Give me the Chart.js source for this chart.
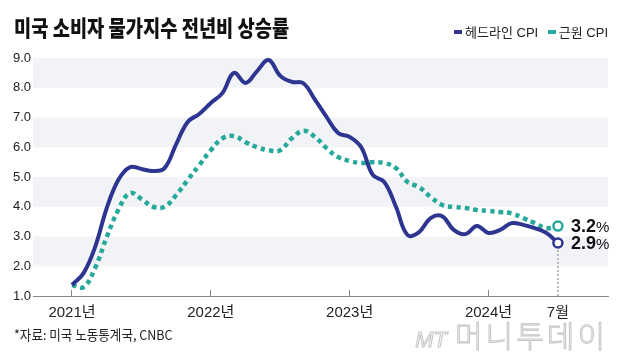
<!DOCTYPE html>
<html>
<head>
<meta charset="utf-8">
<script src="https://cdn.jsdelivr.net/npm/chart.js@4.4.1/dist/chart.umd.min.js"></script>
<style>
    body { margin: 0; background: #fff; }
    #wrap { position: relative; width: 620px; height: 363px; overflow: hidden; }
    #chart { position: absolute; left: 0; top: 0; }
    .title {
        position: absolute; left: 14px; top: 12px;
        font: 900 22px 'Noto Sans CJK KR', sans-serif; line-height: 28px;
        color: #111; white-space: nowrap;
        transform: scaleX(0.85); transform-origin: 0 0;
    }
    .legend {
        position: absolute; right: 12px; top: 25px;
        font: 13px 'Liberation Sans Narrow', 'Liberation Sans', 'Noto Sans CJK KR', sans-serif; line-height: 16px;
        color: #222; white-space: nowrap;
    }
    .legend span.sw { display: inline-block; width: 8px; height: 4px; margin: 0 3px 3px 0; vertical-align: middle; }
    .legend span.item { margin-left: 6px; }
    .source {
        position: absolute; left: 14px; top: 325px;
        font: 13.5px 'Noto Sans CJK KR', sans-serif; line-height: 18px;
        color: #222; white-space: nowrap;
        transform: scaleX(0.93); transform-origin: 0 0;
    }
    .logo {
        position: absolute; right: 12px; top: 317px; white-space: nowrap;
        color: #fff; -webkit-text-stroke: 1px #c4c4c4;
        font-family: 'Noto Sans CJK KR', sans-serif; line-height: 34px;
    }
    .logo i { font: italic 22px 'Liberation Sans', sans-serif; margin-right: 8px; }
    .logo b { font-weight: 300; font-size: 30px; letter-spacing: 3px; }
</style>
</head>
<body>
<div id="wrap">
    <canvas id="chart" width="620" height="363"></canvas>
    <div class="title">미국 소비자 물가지수 전년비 상승률</div>
    <div class="legend">
        <span class="item"><span class="sw" style="background:#2d3590"></span>헤드라인 CPI</span>
        <span class="item"><span class="sw" style="background:#26a99b"></span>근원 CPI</span>
    </div>
    <div class="source">*자료: 미국 노동통계국, CNBC</div>
    <div class="logo"><i>MT</i><b>머니투데이</b></div>
</div>
<script>
// 2021-01 ... 2024-07, one value per month
const months = [
    '2021-01','2021-02','2021-03','2021-04','2021-05','2021-06','2021-07','2021-08','2021-09','2021-10','2021-11','2021-12',
    '2022-01','2022-02','2022-03','2022-04','2022-05','2022-06','2022-07','2022-08','2022-09','2022-10','2022-11','2022-12',
    '2023-01','2023-02','2023-03','2023-04','2023-05','2023-06','2023-07','2023-08','2023-09','2023-10','2023-11','2023-12',
    '2024-01','2024-02','2024-03','2024-04','2024-05','2024-06','2024-07'
];
const headlineCpi = [
    1.37, 1.77, 2.65, 3.95, 4.9, 5.33, 5.27, 5.2, 5.3, 6.1, 6.85, 7.12,
    7.49, 7.82, 8.5, 8.16, 8.56, 8.93, 8.4, 8.2, 8.15, 7.6, 7.02, 6.48,
    6.35, 6.0, 5.07, 4.83, 4.0, 3.05, 3.15, 3.62, 3.68, 3.22, 3.08, 3.35,
    3.12, 3.22, 3.45, 3.39, 3.28, 3.12, 2.78
];
const coreCpi = [
    1.37, 1.3, 1.94, 2.98, 3.89, 4.46, 4.26, 4.0, 4.0, 4.39, 4.9, 5.4,
    5.9, 6.3, 6.38, 6.17, 6.0, 5.9, 5.9, 6.3, 6.55, 6.35, 5.97, 5.67,
    5.54, 5.47, 5.5, 5.47, 5.3, 4.83, 4.66, 4.33, 4.06, 3.99, 3.96, 3.89,
    3.86, 3.82, 3.78, 3.62, 3.45, 3.28, 3.35
];
const endLabels = ['2.9', '3.2'];
const xTickMonths = ['2021-01', '2022-01', '2023-01', '2024-01', '2024-07'];
const xTickLabels = ['2021년', '2022년', '2023년', '2024년', '7월'];
const yTicks = [1, 2, 3, 4, 5, 6, 7, 8, 9];
const bands = [[8, 9], [6, 7], [4, 5], [2, 3]];

const NAVY = '#2d3590';
const TEAL = '#26a99b';
const NARROW = "'Liberation Sans Narrow', 'Liberation Sans', 'Noto Sans CJK KR', sans-serif";

const toPoints = arr => arr.map((v, i) => ({ x: i, y: v }));
const lastIdx = months.length - 1;

const bandPlugin = {
    id: 'bands',
    beforeDraw(chart) {
        const { ctx, chartArea, scales } = chart;
        ctx.save();
        ctx.fillStyle = '#f2f3f6';
        bands.forEach(([lo, hi]) => {
            const top = scales.y.getPixelForValue(hi);
            const bottom = scales.y.getPixelForValue(lo);
            ctx.fillRect(chartArea.left, top, chartArea.right - chartArea.left, bottom - top);
        });
        ctx.restore();
    }
};

const endLabelPlugin = {
    id: 'endLabels',
    afterDatasetsDraw(chart) {
        const ctx = chart.ctx;
        ctx.save();
        ctx.fillStyle = '#111';
        ctx.textBaseline = 'middle';
        [0, 1].forEach(di => {
            const meta = chart.getDatasetMeta(di);
            const pt = meta.data[meta.data.length - 1];
            const x = pt.x + 13;
            ctx.font = 'bold 18px ' + NARROW;
            ctx.fillText(endLabels[di], x, pt.y + 1);
            const w = ctx.measureText(endLabels[di]).width;
            ctx.font = '15px ' + NARROW;
            ctx.fillText('%', x + w, pt.y + 2);
        });
        ctx.restore();
    }
};

const endPoint = color => ({
    pointRadius: c => c.dataIndex === lastIdx ? 4.5 : 0,
    pointHoverRadius: 0,
    pointBackgroundColor: '#fff',
    pointBorderColor: color,
    pointBorderWidth: 2.5
});

new Chart(document.getElementById('chart'), {
    type: 'line',
    data: {
        datasets: [
            {
                label: '헤드라인 CPI',
                data: toPoints(headlineCpi),
                borderColor: NAVY,
                borderWidth: 4,
                tension: 0.4,
                ...endPoint(NAVY)
            },
            {
                label: '근원 CPI',
                data: toPoints(coreCpi),
                borderColor: TEAL,
                borderWidth: 4.5,
                borderDash: [4.5, 4],
                tension: 0.4,
                ...endPoint(TEAL)
            },
            {
                label: 'guide',
                data: [{ x: lastIdx, y: yTicks[0] }, { x: lastIdx, y: headlineCpi[lastIdx] }],
                borderColor: '#aaa',
                borderWidth: 1.5,
                borderDash: [2, 2],
                pointRadius: 0,
                tension: 0
            }
        ]
    },
    options: {
        responsive: false,
        animation: false,
        devicePixelRatio: 1,
        layout: { padding: { left: 13, top: 58, right: 12, bottom: 0 } },
        plugins: {
            legend: { display: false },
            tooltip: { enabled: false }
        },
        scales: {
            x: {
                type: 'linear',
                min: -3.37,
                max: 46.33,
                afterBuildTicks: scale => {
                    scale.ticks = xTickMonths.map(m => ({ value: months.indexOf(m) }));
                },
                afterFit: scale => { scale.height = 67; },
                border: { display: true, color: '#888', width: 1 },
                grid: {
                    drawOnChartArea: false,
                    tickLength: -6,
                    color: c => c.index === xTickLabels.length - 1 ? 'rgba(0,0,0,0)' : '#888'
                },
                ticks: {
                    padding: 14,
                    maxRotation: 0,
                    autoSkip: false,
                    color: '#222',
                    font: { family: NARROW, size: 15 },
                    callback: (v, i) => xTickLabels[i]
                }
            },
            y: {
                min: yTicks[0],
                max: yTicks[yTicks.length - 1],
                afterBuildTicks: scale => {
                    scale.ticks = yTicks.map(v => ({ value: v }));
                },
                afterFit: scale => { scale.width = 20; },
                border: { display: false },
                grid: { display: false },
                ticks: {
                    crossAlign: 'far',
                    padding: 0,
                    color: '#222',
                    font: { family: NARROW, size: 13 },
                    callback: v => v.toFixed(1)
                }
            }
        }
    },
    plugins: [bandPlugin, endLabelPlugin]
});
</script>
</body>
</html>
